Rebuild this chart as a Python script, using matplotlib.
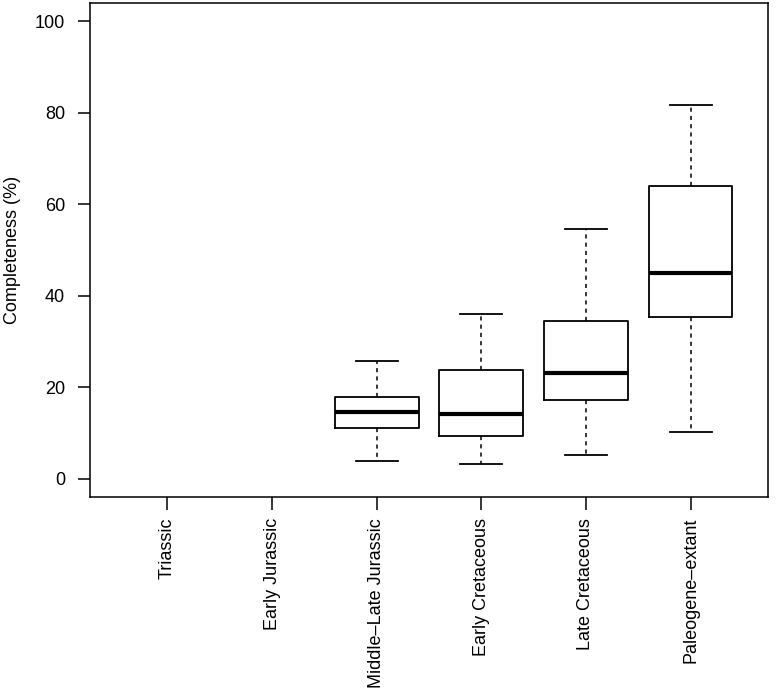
import matplotlib.pyplot as plt

plt.rcParams['font.family'] = ['Liberation Sans', 'DejaVu Sans']

# stage names and box statistics (%)
stages = ['Triassic', 'Early Jurassic', 'Middle\u2013Late Jurassic',
          'Early Cretaceous', 'Late Cretaceous', 'Paleogene\u2013extant']
whislo = [None, None, 3.9, 3.3, 5.2, 10.2]
q1 = [None, None, 11.1, 9.4, 17.2, 35.3]
med = [None, None, 14.5, 14.2, 23.1, 44.9]
q3 = [None, None, 17.9, 23.7, 34.4, 64.1]
whishi = [None, None, 25.7, 35.9, 54.7, 81.7]

stats = []
pos = []
for i in range(len(stages)):
    if med[i] is None:
        continue
    stats.append(dict(whislo=whislo[i], q1=q1[i], med=med[i], q3=q3[i],
                      whishi=whishi[i], fliers=[]))
    pos.append(i + 1)

fig = plt.figure(figsize=(7.77, 6.98), dpi=100)
ax = fig.add_axes([90/777, 1 - 497/698, 678/777, 494/698])

ax.bxp(stats, positions=pos, widths=0.8, capwidths=0.4, showfliers=False,
       boxprops=dict(color='black', linewidth=1.3),
       medianprops=dict(color='black', linewidth=3.0, solid_capstyle='butt'),
       whiskerprops=dict(color='black', linewidth=1.1, linestyle=(0, (2.7, 2.7))),
       capprops=dict(color='black', linewidth=1.3))

ax.set_xlim(0.26, 6.74)
ax.set_ylim(-4, 104)
ax.set_xticks(range(1, len(stages) + 1))
ax.set_xticklabels(stages, rotation=90, va='top')
ax.set_yticks([0, 20, 40, 60, 80, 100])
ax.tick_params(axis='both', labelsize=13, length=9, width=1.1, direction='out')
ax.tick_params(axis='y', pad=9)
ax.tick_params(axis='x', pad=6)
for s in ax.spines.values():
    s.set_linewidth(1.1)
ax.set_ylabel('Completeness (%)', fontsize=13, labelpad=10)

fig.savefig('out.png', dpi=100)
